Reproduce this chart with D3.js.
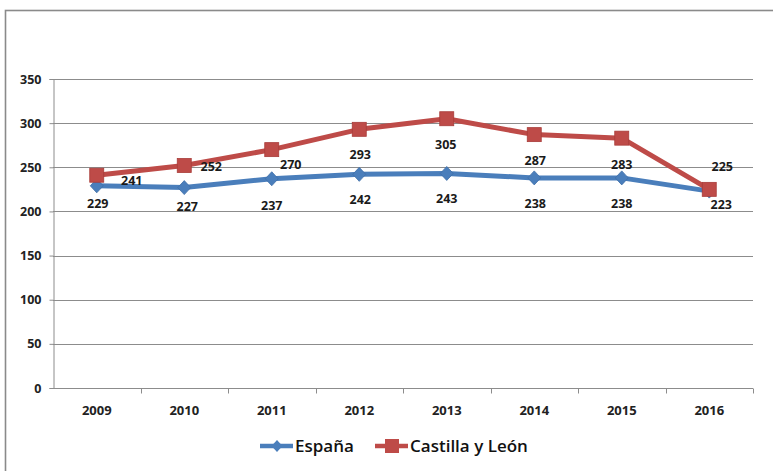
<!DOCTYPE html>
<html>
<head>
<meta charset="utf-8">
<script src="https://cdn.jsdelivr.net/npm/d3@7"></script>
<style>
  html, body { margin: 0; padding: 0; background: #fff; }
  svg { display: block; }
  text { font-family: "Open Sans", "Noto Sans", sans-serif; }
</style>
</head>
<body>
<svg id="chart" width="773" height="471"></svg>
<script>
// Years on the category axis
const years = ["2009", "2010", "2011", "2012", "2013", "2014", "2015", "2016"];
// Values per series
const espana = [229, 227, 237, 242, 243, 238, 238, 223];
const castilla = [241, 252, 270, 293, 305, 287, 283, 225];
// Value axis ticks
const yTicks = [0, 50, 100, 150, 200, 250, 300, 350];
const seriesNames = ["España", "Castilla y León"];

const svg = d3.select("#chart");
const W = 773, H = 471;
const m = { left: 53, right: 20, top: 79, bottom: 83 };

const blue = "#4a7ebb";
const red = "#be4b48";

// Outer frame (open at right/bottom edges of the view)
svg.append("rect")
  .attr("x", 5.5).attr("y", 10.5).attr("width", 800).attr("height", 500)
  .attr("fill", "#fff").attr("stroke", "#8a8a8a").attr("stroke-width", 1.6);

const x = d3.scaleBand().domain(years).range([m.left, W - m.right]);
const y = d3.scaleLinear().domain([0, 350]).range([H - m.bottom, m.top]);
const cx = d => x(d) + x.bandwidth() / 2;

// Horizontal gridlines
svg.append("g").selectAll("line").data(yTicks.filter(t => t > 0)).join("line")
  .attr("x1", m.left).attr("x2", W - m.right)
  .attr("y1", d => Math.round(y(d)) + 0.5).attr("y2", d => Math.round(y(d)) + 0.5)
  .attr("stroke", "#8c8c8c").attr("stroke-width", 1);

// Value axis
const yAxis = svg.append("g")
  .attr("transform", `translate(${m.left + 0.5},0)`)
  .call(d3.axisLeft(y).tickValues(yTicks).tickSize(4).tickPadding(8));
yAxis.select(".domain").attr("stroke", "#8c8c8c");
yAxis.selectAll(".tick line").attr("stroke", "#8c8c8c");
yAxis.selectAll(".tick text")
  .attr("font-family", "'Open Sans', sans-serif")
  .attr("font-size", 12.5).attr("font-weight", 700).attr("fill", "#222");

// Category axis with ticks on band edges
const xAxisY = Math.round(y(0)) + 0.5;
const xa = svg.append("g");
xa.append("line").attr("x1", m.left).attr("x2", W - m.right)
  .attr("y1", xAxisY).attr("y2", xAxisY).attr("stroke", "#8c8c8c");
const edges = years.map(d => x(d)).concat([x(years[years.length - 1]) + x.bandwidth()]);
xa.selectAll("line.edge").data(edges.slice(1)).join("line").attr("class", "edge")
  .attr("x1", d => Math.round(d) + 0.5).attr("x2", d => Math.round(d) + 0.5)
  .attr("y1", xAxisY).attr("y2", xAxisY + 5).attr("stroke", "#8c8c8c");
xa.selectAll("text").data(years).join("text")
  .attr("x", cx).attr("y", xAxisY + 26)
  .attr("text-anchor", "middle")
  .attr("font-size", 13).attr("font-weight", 700).attr("fill", "#222")
  .text(d => d);

// Series lines
const line = d3.line().x((d, i) => cx(years[i])).y(d => y(d));
svg.append("path").datum(espana).attr("d", line)
  .attr("fill", "none").attr("stroke", blue).attr("stroke-width", 5).attr("stroke-linejoin", "round");
svg.append("path").datum(castilla).attr("d", line)
  .attr("fill", "none").attr("stroke", red).attr("stroke-width", 5).attr("stroke-linejoin", "round");

// Markers
const diamondPath = "M0,-7L6.5,0L0,7L-6.5,0Z";
svg.append("g").selectAll("path").data(espana).join("path")
  .attr("d", diamondPath)
  .attr("transform", (d, i) => `translate(${cx(years[i])},${y(d)})`)
  .attr("fill", blue).attr("stroke", "#3f6fa8").attr("stroke-width", 0.8);
svg.append("g").selectAll("rect").data(castilla).join("rect")
  .attr("x", (d, i) => cx(years[i]) - 7).attr("y", d => y(d) - 7)
  .attr("width", 14).attr("height", 14)
  .attr("fill", red).attr("stroke", "#a83c39").attr("stroke-width", 0.8);

// Data label placement (dx, dy from the point)
const espanaNudge = [[1, 22], [3, 23], [0, 31], [1, 30], [0, 30], [1, 30], [0, 30], [12, 18]];
const castillaNudge = [[35, 10], [27, 5], [19, 19], [1, 30], [-1, 30], [1, 30], [0, 31], [13, -18]];

const lbl = svg.append("g")
  .attr("font-size", 12.5).attr("font-weight", 700).attr("fill", "#1a1a1a").attr("text-anchor", "middle");
lbl.selectAll("text.es").data(espana).join("text").attr("class", "es")
  .attr("x", (d, i) => cx(years[i]) + espanaNudge[i][0])
  .attr("y", (d, i) => y(d) + espanaNudge[i][1])
  .text(d => d);
lbl.selectAll("text.cl").data(castilla).join("text").attr("class", "cl")
  .attr("x", (d, i) => cx(years[i]) + castillaNudge[i][0])
  .attr("y", (d, i) => y(d) + castillaNudge[i][1])
  .text(d => d);

// Legend
const legY = 446;
const leg = svg.append("g");
const items = [
  { name: seriesNames[0], color: blue, x: 260, shape: "diamond" },
  { name: seriesNames[1], color: red, x: 375, shape: "square" }
];
items.forEach(it => {
  leg.append("line").attr("x1", it.x).attr("x2", it.x + 33)
    .attr("y1", legY).attr("y2", legY)
    .attr("stroke", it.color).attr("stroke-width", 4.5);
  if (it.shape === "diamond") {
    leg.append("path").attr("d", "M0,-6L5.5,0L0,6L-5.5,0Z")
      .attr("transform", `translate(${it.x + 17},${legY})`).attr("fill", it.color);
  } else {
    leg.append("rect").attr("x", it.x + 10).attr("y", legY - 7)
      .attr("width", 14).attr("height", 14).attr("fill", it.color);
  }
  leg.append("text").attr("x", it.x + 35).attr("y", legY + 6)
    .attr("font-size", 17).attr("font-weight", 600).attr("fill", "#111")
    .text(it.name);
});
</script>
</body>
</html>
